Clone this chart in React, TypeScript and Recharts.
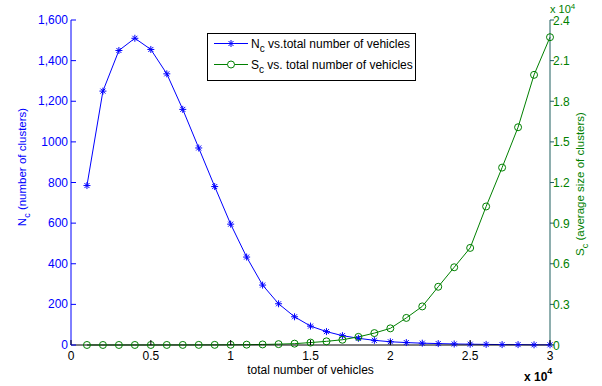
import { ComposedChart, Line, XAxis, YAxis } from 'recharts'

const vehicles = [
  1000, 2000, 3000, 4000, 5000, 6000, 7000, 8000, 9000, 10000, 11000, 12000, 13000, 14000, 15000,
  16000, 17000, 18000, 19000, 20000, 21000, 22000, 23000, 24000, 25000, 26000, 27000, 28000, 29000, 30000,
]
const clusterCount = [
  785, 1250, 1450, 1510, 1455, 1335, 1160, 970, 780, 595, 433, 295, 203, 139, 93,
  66, 46, 33, 23, 16, 12, 9, 7, 5, 4, 3, 2, 2, 1, 1,
]
const clusterSize = [
  1.3, 1.6, 2.1, 2.6, 3.4, 4.5, 6, 8.2, 11.5, 17, 25, 41, 64, 100, 180,
  270, 390, 600, 880, 1230, 2000, 2850, 4300, 5740, 7170, 10230, 13100, 16080, 19950, 22730,
]

const xTicks = [0, 5000, 10000, 15000, 20000, 25000, 30000]
const xTickLabels = ['0', '0.5', '1', '1.5', '2', '2.5', '3']
const leftTicks = [0, 200, 400, 600, 800, 1000, 1200, 1400, 1600]
const leftTickLabels = ['0', '200', '400', '600', '800', '1000', '1,200', '1,400', '1,600']
const rightTicks = [0, 3000, 6000, 9000, 12000, 15000, 18000, 21000, 24000]
const rightTickLabels = ['0', '0.3', '0.6', '0.9', '1.2', '1.5', '1.8', '2.1', '2.4']

const data = vehicles.map((v, i) => ({ v, nc: clusterCount[i], sc: clusterSize[i] }))

const BLUE = '#0000ff'
const GREEN = '#008000'
const FONT = '"Liberation Sans", Arial, sans-serif'

const Asterisk = ({ cx, cy }: { cx: number; cy: number }) => {
  const r = 3.5
  const d = 2.5
  return (
    <g stroke={BLUE} strokeWidth={1}>
      <line x1={cx - r} y1={cy} x2={cx + r} y2={cy} />
      <line x1={cx} y1={cy - r} x2={cx} y2={cy + r} />
      <line x1={cx - d} y1={cy - d} x2={cx + d} y2={cy + d} />
      <line x1={cx - d} y1={cy + d} x2={cx + d} y2={cy - d} />
    </g>
  )
}

const BottomTick = (props: any) => {
  const { x, y, payload } = props
  const i = xTicks.indexOf(payload.value)
  return (
    <g>
      <line x1={x} y1={y} x2={x} y2={y - 5} stroke="#000" />
      <text x={x} y={y + 15} textAnchor="middle" fontSize={12} fill="#000" fontFamily={FONT}>
        {xTickLabels[i]}
      </text>
    </g>
  )
}

const TopTick = (props: any) => {
  const { x, y } = props
  return <line x1={x} y1={y} x2={x} y2={y + 5} stroke="#000" />
}

const LeftTick = (props: any) => {
  const { x, y, payload } = props
  const i = leftTicks.indexOf(payload.value)
  return (
    <g>
      <line x1={x} y1={y} x2={x + 5} y2={y} stroke={BLUE} />
      <text x={x - 3} y={y + 4} textAnchor="end" fontSize={12} fill={BLUE} fontFamily={FONT}>
        {leftTickLabels[i]}
      </text>
    </g>
  )
}

const RightTick = (props: any) => {
  const { x, y, payload } = props
  const i = rightTicks.indexOf(payload.value)
  return (
    <g>
      <line x1={x} y1={y} x2={x + 4} y2={y} stroke="#1f5f5f" />
      <text x={x + 3} y={y + 4.5} textAnchor="start" fontSize={12} fill={GREEN} fontFamily={FONT}>
        {rightTickLabels[i]}
      </text>
    </g>
  )
}

export default function App() {
  return (
    <div style={{ position: 'absolute', left: 0, top: 0, width: 602, height: 386, background: '#fff' }}>
      <ComposedChart width={602} height={386} data={data} margin={{ top: 20, right: 0, bottom: 0, left: 0 }}>
        <XAxis
          dataKey="v"
          type="number"
          domain={[0, 30000]}
          ticks={xTicks}
          height={41}
          tickSize={0}
          tickMargin={0}
          tickLine={false}
          stroke="#000"
          tick={<BottomTick />}
          interval={0}
        />
        <XAxis
          xAxisId="top"
          orientation="top"
          type="number"
          domain={[0, 30000]}
          allowDataOverflow
          ticks={xTicks}
          height={0}
          tickSize={0}
          tickMargin={0}
          tickLine={false}
          stroke="#000"
          tick={<TopTick />}
          interval={0}
        />
        <YAxis
          yAxisId="left"
          type="number"
          domain={[0, 1600]}
          ticks={leftTicks}
          width={71}
          tickSize={0}
          tickMargin={0}
          tickLine={false}
          stroke={BLUE}
          tick={<LeftTick />}
          interval={0}
        />
        <YAxis
          yAxisId="right"
          orientation="right"
          type="number"
          domain={[0, 24000]}
          ticks={rightTicks}
          width={52}
          tickSize={0}
          tickMargin={0}
          tickLine={false}
          stroke="#1f5f5f"
          tick={<RightTick />}
          interval={0}
        />
        <Line
          yAxisId="left"
          dataKey="nc"
          type="linear"
          stroke={BLUE}
          strokeWidth={1}
          isAnimationActive={false}
          dot={(p: any) => <Asterisk key={`a${p.index}`} cx={p.cx} cy={p.cy} />}
        />
        <Line
          yAxisId="right"
          dataKey="sc"
          type="linear"
          stroke={GREEN}
          strokeWidth={1}
          isAnimationActive={false}
          dot={{ r: 3.5, stroke: GREEN, strokeWidth: 1, fill: 'none' }}
        />
      </ComposedChart>
      <svg
        width={602}
        height={386}
        style={{ position: 'absolute', left: 0, top: 0, pointerEvents: 'none' }}
        fontFamily={FONT}
      >
        <text x={310.5} y={374} textAnchor="middle" fontSize={12} fill="#000">
          total number of vehicles
        </text>
        <text x={524} y={381} fontSize={12} fill="#000" fontWeight="bold">
          x 10<tspan dy={-7} fontSize={9}>4</tspan>
        </text>
        <text x={550} y={13} fontSize={11} fill={GREEN}>
          x 10<tspan dy={-4} fontSize={8}>4</tspan>
        </text>
        <text transform="translate(26,167) rotate(-90)" textAnchor="middle" fontSize={11.5} fill={BLUE}>
          N<tspan dy={4} fontSize={9}>c</tspan>
          <tspan dy={-4}> (number of clusters)</tspan>
        </text>
        <text transform="translate(584,184) rotate(-90)" textAnchor="middle" fontSize={11.5} fill={GREEN}>
          S<tspan dy={4} fontSize={9}>c</tspan>
          <tspan dy={-4}> (average size of clusters)</tspan>
        </text>
        <rect x={207.5} y={33.5} width={208} height={47} fill="#fff" stroke="#000" />
        <line x1={214} y1={43.5} x2={248} y2={43.5} stroke={BLUE} />
        <Asterisk cx={231} cy={43.5} />
        <text x={251} y={47.5} fontSize={12} fill="#000">
          N<tspan dy={4.5} fontSize={10}>c</tspan>
          <tspan dy={-4.5}> vs.total number of vehicles</tspan>
        </text>
        <line x1={214} y1={64.5} x2={248} y2={64.5} stroke={GREEN} />
        <circle cx={231} cy={64.5} r={3.5} fill="#fff" stroke={GREEN} />
        <text x={251} y={68.5} fontSize={12} fill="#000">
          S<tspan dy={4.5} fontSize={10}>c</tspan>
          <tspan dy={-4.5}> vs. total number of vehicles</tspan>
        </text>
      </svg>
    </div>
  )
}
